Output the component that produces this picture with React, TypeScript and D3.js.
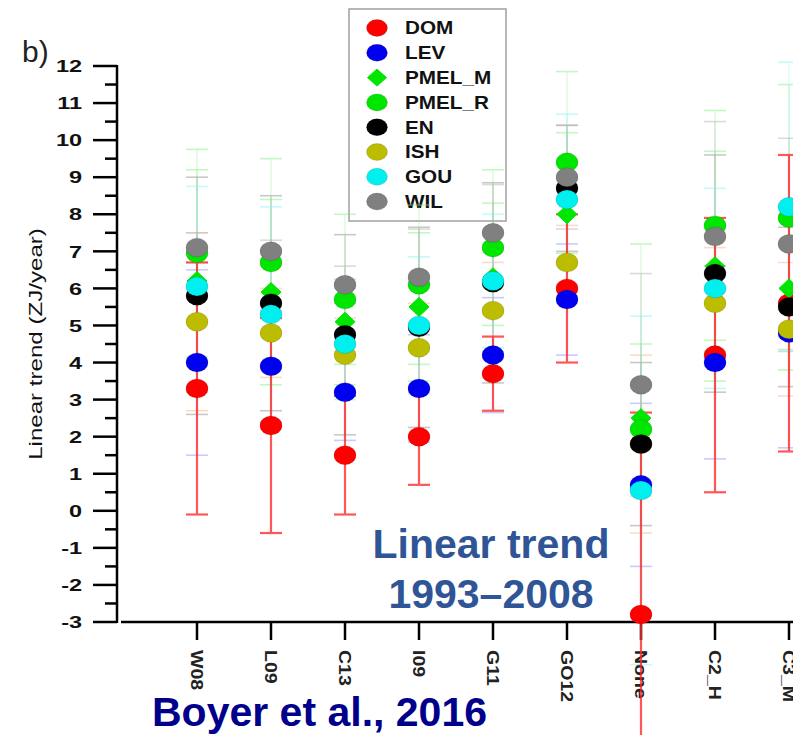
import React from 'react';
import * as d3 from 'd3';

// categories along the x axis (the right edge of the figure is cropped)
const categories = ['W08', 'L09', 'C13', 'I09', 'G11', 'GO12', 'None', 'C2_H', 'C3_M'];

// linear trend (ZJ/year) per series and the half-width of each error bar
const domVals = [3.3, 2.3, 1.5, 2.0, 3.7, 6.0, -2.8, 4.2, 5.6];
const domErr = [3.4, 2.9, 1.6, 1.3, 1.0, 2.0, 5.45, 3.7, 4.0];
const levVals = [4.0, 3.9, 3.2, 3.3, 4.2, 5.7, 0.7, 4.0, 4.8];
const levErr = [2.5, 1.5, 1.3, 1.45, 1.55, 1.5, 2.2, 2.6, 3.1];
const pmelMVals = [6.2, 5.9, 5.1, 5.5, 6.3, 8.0, 2.5, 6.6, 6.0];
const pmelMErr = [3.0, 2.5, 1.15, 2.0, 2.0, 2.2, 2.0, 3.1, 2.2];
const pmelRVals = [6.95, 6.7, 5.7, 6.1, 7.1, 9.4, 2.2, 7.7, 7.9];
const pmelRErr = [2.8, 2.8, 2.3, 2.15, 2.1, 2.45, 5.0, 3.1, 3.6];
const enVals = [5.8, 5.6, 4.75, 4.95, 6.15, 8.7, 1.8, 6.4, 5.5];
const enErr = [3.2, 2.9, 2.7, 2.7, 2.7, 1.7, 2.2, 3.2, 2.15];
const ishVals = [5.1, 4.8, 4.2, 4.4, 5.4, 6.7, 1.8, 5.6, 4.9];
const ishErr = [2.4, 1.2, 1.0, 1.2, 1.3, 1.0, 2.4, 1.5, 1.8];
const gouVals = [6.05, 5.3, 4.5, 5.0, 6.2, 8.4, 0.55, 6.0, 8.2];
const gouErr = [2.7, 2.9, 1.5, 1.85, 1.8, 2.3, 4.7, 2.7, 3.9];
const wilVals = [7.1, 7.0, 6.1, 6.3, 7.5, 9.0, 3.4, 7.4, 7.2];
const wilErr = [0.4, 0.3, 0.5, 1.3, 1.3, 1.4, 3.0, 3.1, 2.85];

const yTicks = d3.range(-3, 13);
const yMinorTicks = d3.range(-2.5, 12, 1);

interface Series {
  name: string;
  vals: number[];
  err: number[];
  color: string;
  barColor: string;
  shape: 'circle' | 'diamond';
}

const series: Series[] = [
  {name: 'DOM', vals: domVals, err: domErr, color: '#ff0000', barColor: '#ff2020', shape: 'circle'},
  {name: 'LEV', vals: levVals, err: levErr, color: '#0000f0', barColor: '#8c8cff', shape: 'circle'},
  {name: 'PMEL_M', vals: pmelMVals, err: pmelMErr, color: '#00e600', barColor: '#7cf07c', shape: 'diamond'},
  {name: 'PMEL_R', vals: pmelRVals, err: pmelRErr, color: '#00e600', barColor: '#7cf07c', shape: 'circle'},
  {name: 'EN', vals: enVals, err: enErr, color: '#000000', barColor: '#8a8a8a', shape: 'circle'},
  {name: 'ISH', vals: ishVals, err: ishErr, color: '#bcbc00', barColor: '#f5b48a', shape: 'circle'},
  {name: 'GOU', vals: gouVals, err: gouErr, color: '#00f0f0', barColor: '#7cf5f5', shape: 'circle'},
  {name: 'WIL', vals: wilVals, err: wilErr, color: '#808080', barColor: '#b0b0b0', shape: 'circle'},
];

// markers overlap, this is the stacking seen in the figure
const drawOrder = ['DOM', 'LEV', 'ISH', 'PMEL_M', 'PMEL_R', 'EN', 'GOU', 'WIL'];

const W = 793;
const H = 735;

const Marker = ({s, x, y, rx = 11, ry = 9.5}: {s: Series, x: number, y: number, rx?: number, ry?: number}) => {
  if (s.shape === 'diamond') {
    return <path d={`M${x},${y - ry}L${x + rx - 1},${y}L${x},${y + ry}L${x - rx + 1},${y}Z`}
                 fill={s.color} stroke={s.color} strokeWidth={1}/>;
  }
  return <ellipse cx={x} cy={y} rx={rx} ry={ry} fill={s.color}
                  stroke="rgba(0,0,0,0.12)" strokeWidth={1}/>;
};

export default function App() {
  const x = d3.scalePoint<string>().domain(categories).range([197, 789]);
  const y = d3.scaleLinear().domain([-3, 12]).range([622, 66]);
  const capW = 11;
  const font = 'Liberation Sans, Arial, sans-serif';

  const ordered = drawOrder.map(n => series.find(s => s.name === n)!);
  const legendY = (i: number) => 28 + i * 24.8;

  return (
      <svg width={W} height={H} style={{position: 'absolute', left: 0, top: 0, background: '#fff'}}
           fontFamily={font}>
        <text x={22} y={62} fontSize={30} fill="#222">b)</text>

        {/* legend */}
        <rect x={349} y={9} width={157} height={212} fill="none" stroke="#a0a0a0" strokeWidth={1.5}/>
        {series.map((s, i) => (
            <g key={s.name}>
              <Marker s={s} x={377} y={legendY(i)} rx={10.5} ry={8.5}/>
              <text transform={`translate(405,${legendY(i)}) scale(1.15,1)`} dominantBaseline="central"
                    fontSize={18} fontWeight="bold" fill="#111">{s.name}</text>
            </g>
        ))}

        {/* y axis */}
        <line x1={117} x2={117} y1={y(12) - 1} y2={y(-3) + 1} stroke="#000" strokeWidth={2.5}/>
        {yTicks.map(t => (
            <g key={t}>
              <line x1={93} x2={117} y1={y(t)} y2={y(t)} stroke="#000" strokeWidth={2.5}/>
              <text transform={`translate(82,${y(t)}) scale(1.38,1)`} textAnchor="end" dominantBaseline="central"
                    fontSize={17} fontWeight="bold" fill="#111">{t}</text>
            </g>
        ))}
        {yMinorTicks.map(t => (
            <line key={t} x1={105} x2={117} y1={y(t)} y2={y(t)} stroke="#000" strokeWidth={2.5}/>
        ))}
        <text transform={`translate(42,344) rotate(-90) scale(1.34,1)`} textAnchor="middle"
              fontSize={18} fill="#111">Linear trend (ZJ/year)</text>

        {/* x axis */}
        <line x1={121} x2={W} y1={622} y2={622} stroke="#000" strokeWidth={2.5}/>
        {categories.map(c => (
            <g key={c}>
              <line x1={x(c)} x2={x(c)} y1={622} y2={640} stroke="#000" strokeWidth={2.5}/>
              <text transform={`translate(${x(c)},650) rotate(90) scale(1.15,1)`} dominantBaseline="central"
                    fontSize={17} fontWeight="bold" fill="#222">{c}</text>
            </g>
        ))}

        {/* error bars, faint ones first and DOM on top */}
        {[...series.slice(1), series[0]].map(s => (
            <g key={s.name} opacity={s.name === 'DOM' ? 0.75 : 0.45}>
              {categories.map((c, i) => {
                const cx = x(c)!;
                const hi = y(s.vals[i] + s.err[i]);
                const lo = y(s.vals[i] - s.err[i]);
                const sw = s.name === 'DOM' ? 2.2 : 1.6;
                return (
                    <g key={c} stroke={s.barColor} strokeWidth={sw}>
                      <line x1={cx} x2={cx} y1={hi} y2={lo} strokeOpacity={s.name === 'DOM' ? 1 : 0.55}/>
                      <line x1={cx - capW} x2={cx + capW} y1={hi} y2={hi}/>
                      <line x1={cx - capW} x2={cx + capW} y1={lo} y2={lo}/>
                    </g>
                );
              })}
            </g>
        ))}

        {/* markers */}
        {ordered.map(s => (
            <g key={s.name}>
              {categories.map((c, i) => (
                  <Marker key={c} s={s} x={x(c)!} y={y(s.vals[i])}/>
              ))}
            </g>
        ))}

        {/* annotations */}
        <text x={491} y={558} textAnchor="middle" fontSize={41} fontWeight="bold" fill="#2f5597">Linear trend</text>
        <text x={491} y={608} textAnchor="middle" fontSize={41} fontWeight="bold" fill="#2f5597">1993–2008</text>
        <text x={152} y={726} fontSize={41} fontWeight="bold" fill="#00008b">Boyer et al., 2016</text>
      </svg>
  );
}
